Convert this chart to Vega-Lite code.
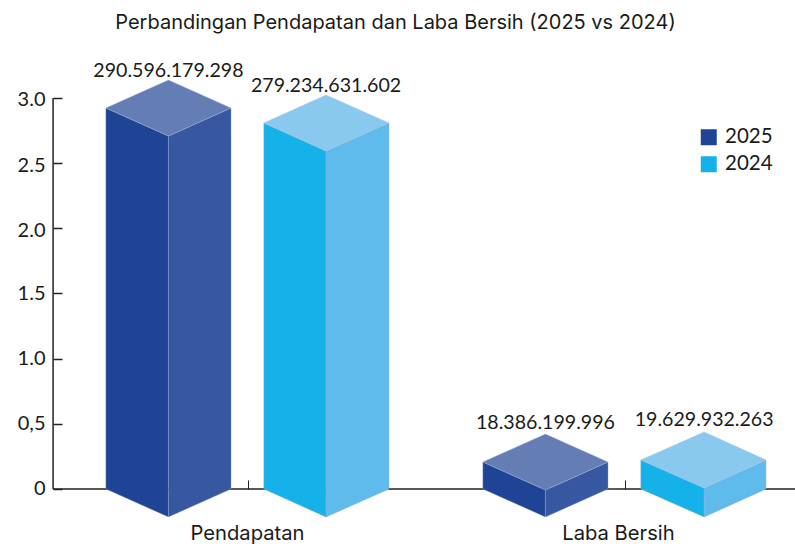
{"$schema":"https://vega.github.io/schema/vega-lite/v6.json","width":795,"height":509,"autosize":"none","padding":{"top":35,"left":0,"right":0,"bottom":0},"background":"white","view":{"stroke":null},"config":{"font":"Lato"},"title":{"text":"Perbandingan Pendapatan dan Laba Bersih (2025 vs 2024)","fontSize":20,"fontWeight":"normal","color":"#1a1a1a","anchor":"middle","frame":"group","offset":2,"dx":-2,"font":"Inter"},"datasets":{"faces":[
{"bar":"P25","series":"2025","face":"left","x":-0.377,"y":2.923,"y2":0},{"bar":"P25","series":"2025","face":"left","x":-0.211,"y":2.708,"y2":-0.215},
{"bar":"P25","series":"2025","face":"right","x":-0.211,"y":2.708,"y2":-0.215},{"bar":"P25","series":"2025","face":"right","x":-0.045,"y":2.923,"y2":0},
{"bar":"P25","series":"2025","face":"top","x":-0.377,"y":2.923,"y2":2.923},{"bar":"P25","series":"2025","face":"top","x":-0.211,"y":3.138,"y2":2.708},{"bar":"P25","series":"2025","face":"top","x":-0.045,"y":2.923,"y2":2.923},
{"bar":"P24","series":"2024","face":"left","x":0.042,"y":2.808,"y2":0},{"bar":"P24","series":"2024","face":"left","x":0.207,"y":2.593,"y2":-0.215},
{"bar":"P24","series":"2024","face":"right","x":0.207,"y":2.593,"y2":-0.215},{"bar":"P24","series":"2024","face":"right","x":0.374,"y":2.808,"y2":0},
{"bar":"P24","series":"2024","face":"top","x":0.042,"y":2.808,"y2":2.808},{"bar":"P24","series":"2024","face":"top","x":0.207,"y":3.023,"y2":2.593},{"bar":"P24","series":"2024","face":"top","x":0.374,"y":2.808,"y2":2.808},
{"bar":"L25","series":"2025","face":"left","x":0.623,"y":0.207,"y2":0},{"bar":"L25","series":"2025","face":"left","x":0.789,"y":-0.008,"y2":-0.215},
{"bar":"L25","series":"2025","face":"right","x":0.789,"y":-0.008,"y2":-0.215},{"bar":"L25","series":"2025","face":"right","x":0.955,"y":0.207,"y2":0},
{"bar":"L25","series":"2025","face":"top","x":0.623,"y":0.207,"y2":0.207},{"bar":"L25","series":"2025","face":"top","x":0.789,"y":0.422,"y2":-0.008},{"bar":"L25","series":"2025","face":"top","x":0.955,"y":0.207,"y2":0.207},
{"bar":"L24","series":"2024","face":"left","x":1.042,"y":0.2225,"y2":0},{"bar":"L24","series":"2024","face":"left","x":1.21,"y":0.0075,"y2":-0.215},
{"bar":"L24","series":"2024","face":"right","x":1.21,"y":0.0075,"y2":-0.215},{"bar":"L24","series":"2024","face":"right","x":1.374,"y":0.2225,"y2":0},
{"bar":"L24","series":"2024","face":"top","x":1.042,"y":0.2225,"y2":0.2225},{"bar":"L24","series":"2024","face":"top","x":1.21,"y":0.4375,"y2":0.0075},{"bar":"L24","series":"2024","face":"top","x":1.374,"y":0.2225,"y2":0.2225}
],"labels":[
{"label":"290.596.179.298","x":-0.211,"y":3.161},{"label":"279.234.631.602","x":0.207,"y":3.046},{"label":"18.386.199.996","x":0.789,"y":0.46},{"label":"19.629.932.263","x":1.21,"y":0.483}
],"axisLines":[{"x":-0.517,"x2":1.451,"y":0,"y2":0},{"x":-0.517,"x2":-0.517,"y":0,"y2":3}]},
"layer":[
{"data":{"name":"axisLines"},"mark":{"type":"rule","stroke":"#222222","strokeWidth":1.5},"encoding":{"x":{"field":"x","type":"quantitative","scale":{"domain":[-0.6578,1.451],"nice":false,"zero":false},"axis":{"orient":"bottom","offset":-55,"values":[0,1],"title":null,"domain":false,"grid":false,"tickSize":-9,"tickColor":"#222222","tickWidth":1,"labelPadding":43,"labelFontSize":20.2,"labelFont":"Inter","labelColor":"#1a1a1a","labelExpr":"datum.value==0?'Pendapatan':'Laba Bersih'","labelOffset":{"condition":{"test":"datum.value==1","value":-7},"value":-1}}},"x2":{"field":"x2"},"y":{"field":"y","type":"quantitative","scale":{"domain":[-0.422,3.483],"nice":false,"zero":false},"axis":{"orient":"left","offset":-53,"values":[0,0.5,1,1.5,2,2.5,3],"title":null,"domain":false,"grid":false,"tickSize":-9,"tickColor":"#222222","tickWidth":1.5,"labelPadding":17,"labelFontSize":20,"labelColor":"#1a1a1a","labelExpr":"datum.value==0?'0':datum.value==0.5?'0,5':format(datum.value,'.1f')","labelOffset":{"condition":{"test":"datum.value>=2","value":2},"value":0}}},"y2":{"field":"y2"}}},
{"data":{"name":"faces"},"transform":[{"filter":"datum.face=='left'"}],"mark":{"type":"area","stroke":"#8fa3cf","strokeWidth":0.4},"encoding":{"x":{"field":"x","type":"quantitative"},"y":{"field":"y","type":"quantitative"},"y2":{"field":"y2"},"detail":{"field":"bar"},"color":{"field":"series","type":"nominal","scale":{"domain":["2025","2024"],"range":["#1F4496","#14B2E8"]},"legend":{"title":null,"orient":"none","legendX":698.5,"legendY":92,"symbolType":"square","symbolSize":256,"symbolStrokeWidth":0,"labelFontSize":20.5,"labelColor":"#1a1a1a","rowPadding":6,"labelOffset":6,"symbolOpacity":1}}}},
{"data":{"name":"faces"},"transform":[{"filter":"datum.face=='right'"}],"mark":{"type":"area","stroke":"#8fa3cf","strokeWidth":0.4},"encoding":{"x":{"field":"x","type":"quantitative"},"y":{"field":"y","type":"quantitative"},"y2":{"field":"y2"},"detail":{"field":"bar"},"color":{"field":"series","type":"nominal","scale":{"domain":["2025","2024"],"range":["#3757A0","#5FBBEC"]},"legend":null}}},
{"data":{"name":"faces"},"transform":[{"filter":"datum.face=='top'"}],"mark":{"type":"area","stroke":"#a9bbdc","strokeWidth":0.4},"encoding":{"x":{"field":"x","type":"quantitative"},"y":{"field":"y","type":"quantitative"},"y2":{"field":"y2"},"detail":{"field":"bar"},"color":{"field":"series","type":"nominal","scale":{"domain":["2025","2024"],"range":["#647DB5","#8AC9EE"]},"legend":null}}},
{"data":{"name":"labels"},"mark":{"type":"text","fontSize":19.6,"color":"#1a1a1a","baseline":"alphabetic","align":"center"},"encoding":{"x":{"field":"x","type":"quantitative"},"y":{"field":"y","type":"quantitative"},"text":{"field":"label"}}}
],"resolve":{"scale":{"color":"independent"}}}
